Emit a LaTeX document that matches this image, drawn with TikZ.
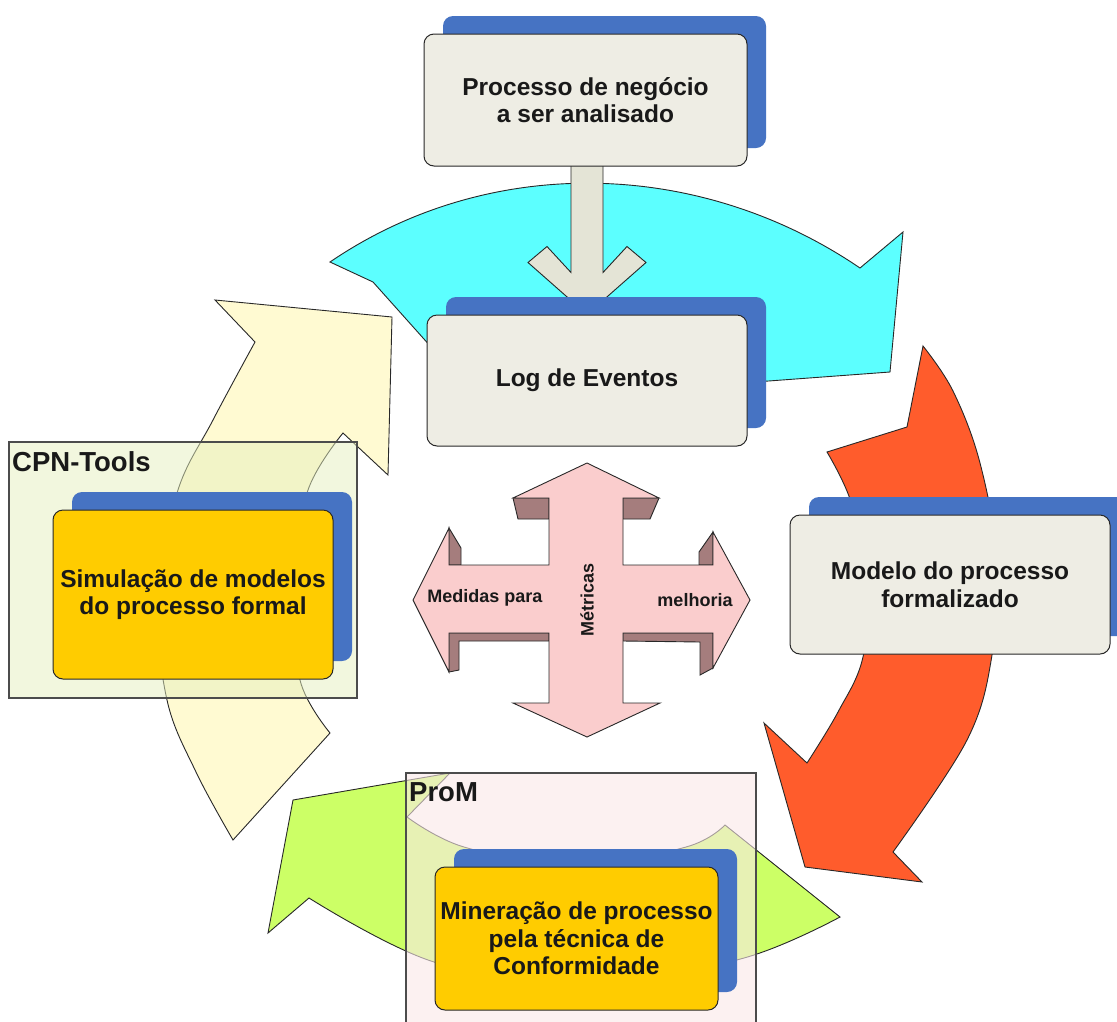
\documentclass[tikz,border=0pt]{standalone}
\usepackage{fontspec}
\setmainfont{Liberation Sans}
\usetikzlibrary{shadows,calc}
\pgfdeclarelayer{back}
\pgfsetlayers{back,main}
\definecolor{boxgrey}{RGB}{238,237,228}
\definecolor{shadowblue}{RGB}{70,115,195}
\definecolor{gold}{RGB}{255,204,0}
\definecolor{cyanarrow}{RGB}{92,255,255}
\definecolor{orangearrow}{RGB}{255,92,44}
\definecolor{greenarrow}{RGB}{204,255,102}
\definecolor{yellowarrow}{RGB}{255,250,210}
\definecolor{pinkarrow}{RGB}{250,205,205}
\definecolor{bevel}{RGB}{165,125,125}
\definecolor{cpnfill}{RGB}{230,240,190}
\definecolor{promfill}{RGB}{250,232,232}
\definecolor{edgeline}{RGB}{40,40,40}
\definecolor{txt}{RGB}{25,25,25}
\definecolor{downfill}{RGB}{228,228,214}
\begin{document}
\begin{tikzpicture}[x=1pt,y=-1pt,
  shapeline/.style={draw=edgeline, line width=0.9pt, line join=miter},
  mainbox/.style={draw=edgeline, line width=1pt, rounded corners=10pt, inner sep=0pt, align=center, text=txt,
    font=\bfseries\fontsize{24.5}{27.5}\selectfont,
    general shadow={fill=shadowblue, shadow xshift=19pt, shadow yshift=18pt}},
  greybox/.style={mainbox, fill=boxgrey},
  goldbox/.style={mainbox, fill=gold},
  toolbox/.style={draw=black!70, line width=1.2pt, inner sep=0pt},
  toollabel/.style={anchor=west, inner sep=0pt, text=txt, font=\bfseries\fontsize{27.5}{30}\selectfont},
  crosstext/.style={inner sep=0pt, text=txt, font=\bfseries\fontsize{18}{20}\selectfont}
]
\useasboundingbox (0,0) rectangle (1117,1021);
\clip (0,0) rectangle (1117,1021);

% translucent tool containers
\node[toolbox, fill=cpnfill, fill opacity=0.5, minimum width=348pt, minimum height=256pt] (cpn) at (183,570) {};
\node[toollabel] (cpnlabel) at (12,462) {CPN-Tools};
\node[toolbox, fill=promfill, fill opacity=0.6, minimum width=350pt, minimum height=267pt] (prom) at (581,906.5) {};
\node[toollabel] (promlabel) at (409,792) {ProM};

% main boxes
\node[greybox, minimum width=323pt, minimum height=132pt] (proc) at (585.5,100) {Processo de negócio\\a ser analisado};
\node[greybox, minimum width=320pt, minimum height=131pt] (log) at (587,380.5) {Log de Eventos};
\node[greybox, minimum width=320pt, minimum height=139pt] (model) at (950,584.5) {Modelo do processo\\formalizado};
\node[goldbox, minimum width=280pt, minimum height=169pt] (sim) at (193,594.5) {Simulação de modelos\\do processo formal};
\node[goldbox, minimum width=283pt, minimum height=143pt] (mine) at (576.5,938.5) {Mineração de processo\\pela técnica de\\Conformidade};

% cross texts
\node[crosstext, rotate=90] (met) at (587,600) {Métricas};
\node[crosstext] (med) at (485,598) {Medidas para};
\node[crosstext] (mel) at (695,600) {melhoria};

\begin{pgfonlayer}{back}
\fill[white] (0,0) rectangle (1117,1021);
% cyan arrow (top)
\path[shapeline, fill=cyanarrow] (330,262) .. controls (490,153) and (700,159) .. (860,268) -- (903,232) -- (890,372) -- (755,382) .. controls (650,320) and (530,320) .. (432,348) -- (373,282) -- cycle;
% orange arrow (right)
\path[shapeline, fill=orangearrow] plot[smooth, tension=0.6] coordinates {(923,346) (953,391) (980,463) (997,560) (992,655) (967,740) (893,852)} -- (922,882) -- (805,867) -- (764,723) -- (807,763) -- plot[smooth, tension=0.6] coordinates {(807,763) (838,712) (863,657) (869,575) (850,499) (827,452)} -- (907,427) -- cycle;
% green arrow (bottom)
\path[shapeline, fill=greenarrow] (725,825) -- (840,917) -- plot[smooth, tension=0.6] coordinates {(840,917) (744,958) (590,986) (434,962) (309,898)} -- (268,933) -- (293,800) -- (450,773) -- (407,817) -- plot[smooth, tension=0.6] coordinates {(407,817) (464,847) (575,866) (686,847) (725,825)} -- cycle;
% pale yellow arrow (left)
\path[shapeline, fill=yellowarrow] (255,342) -- (215,300) -- (392,317) -- (388,475) -- (343,433) -- plot[smooth, tension=0.6] coordinates {(343,433) (307,493) (296,590) (300,680) (330,733)} -- (233,840) -- plot[smooth, tension=0.6] coordinates {(233,840) (196,772) (167,700) (158,600) (177,493) (213,420) (255,342)} -- cycle;
% down arrow from proc to log
\coordinate (at) at (proc.south -| log.north);
\path[shapeline, fill=downfill] ($(at)+(-16,-8)$) -- ($(log.north)+(-16,-42)$) -- ($(log.north)+(-40,-68)$) -- ($(log.north)+(-59,-52)$) -- (log.north) -- ($(log.north)+(59,-52)$) -- ($(log.north)+(40,-68)$) -- ($(log.north)+(16,-42)$) -- ($(at)+(16,-8)$) -- cycle;
% cross arrow bevels
\path[shapeline, fill=bevel] (513,498) -- (549,498) -- (549,519) -- (518,519) -- cycle;
\path[shapeline, fill=bevel] (623,498) -- (659,498) -- (650,519) -- (623,519) -- cycle;
\path[shapeline, fill=bevel] (449,528) -- (461,548) -- (461,565) -- (449,565) -- cycle;
\path[shapeline, fill=bevel] (449,633) -- (549,633) -- (549,641) -- (459,641) -- (459,670) -- (449,672) -- cycle;
\path[shapeline, fill=bevel] (699,552) -- (713,532) -- (713,565) -- (699,565) -- cycle;
\path[shapeline, fill=bevel] (623,633) -- (713,633) -- (713,668) -- (700,675) -- (700,642) -- (623,641) -- cycle;
% cross arrow face
\path[shapeline, fill=pinkarrow] (587,463) -- (659,498) -- (623,498) -- (623,565) -- (713,565) -- (713,532) -- (750,600) -- (713,668) -- (713,633) -- (623,633) -- (623,703) -- (660,703) -- (587,737) -- (513,703) -- (549,703) -- (549,633) -- (449,633) -- (449,672) -- (413,600) -- (449,528) -- (449,565) -- (549,565) -- (549,498) -- (513,498) -- cycle;
\end{pgfonlayer}
\end{tikzpicture}
\end{document}
